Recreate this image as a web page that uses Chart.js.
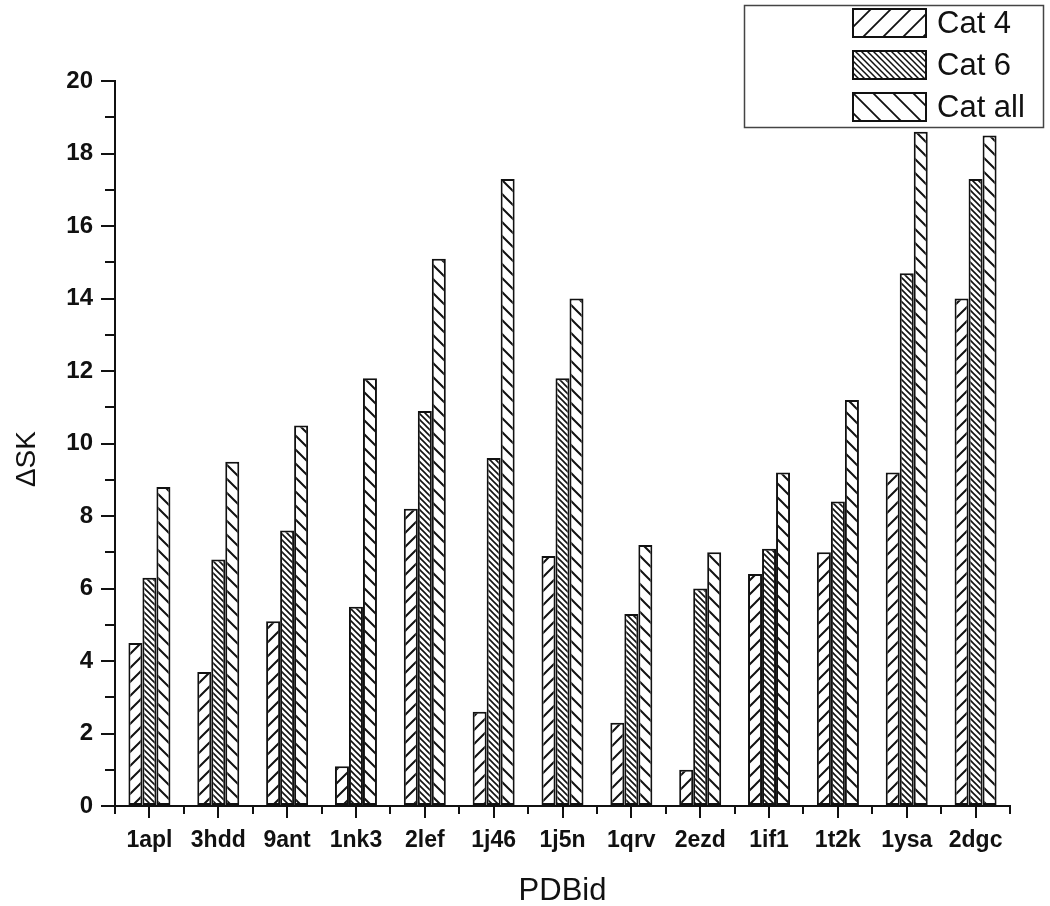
<!DOCTYPE html>
<html>
<head>
<meta charset="utf-8">
<script src="https://cdn.jsdelivr.net/npm/chart.js@4/dist/chart.umd.min.js"></script>
<style>
  html, body { margin: 0; padding: 0; background: #fff; }
  #wrap { width: 1050px; height: 906px; }
</style>
</head>
<body>
<div id="wrap"><canvas id="c" width="1050" height="906"></canvas></div>
<script>
const categories = ['1apl','3hdd','9ant','1nk3','2lef','1j46','1j5n','1qrv','2ezd','1if1','1t2k','1ysa','2dgc'];
const seriesNames = ['Cat 4','Cat 6','Cat all'];
const cat4 =   [4.5, 3.7, 5.1, 1.1, 8.2, 2.6, 6.9, 2.3, 1.0, 6.4, 7.0, 9.2, 14.0];
const cat6 =   [6.3, 6.8, 7.6, 5.5, 10.9, 9.6, 11.8, 5.3, 6.0, 7.1, 8.4, 14.7, 17.3];
const catAll = [8.8, 9.5, 10.5, 11.8, 15.1, 17.3, 14.0, 7.2, 7.0, 9.2, 11.2, 18.6, 18.5];
const yTickValues = [0, 2, 4, 6, 8, 10, 12, 14, 16, 18, 20];
const yTitle = 'ΔSK';
const xTitle = 'PDBid';

const INK = '#111';
const FONT = "'Liberation Sans', Arial, sans-serif";

function makeHatch(dir, pitch, lw) {
  const c = document.createElement('canvas');
  c.width = pitch; c.height = pitch;
  const g = c.getContext('2d');
  g.fillStyle = '#fff';
  g.fillRect(0, 0, pitch, pitch);
  g.strokeStyle = INK;
  g.lineWidth = lw;
  g.lineCap = 'square';
  g.beginPath();
  if (dir === '/') {
    g.moveTo(-1, pitch + 1); g.lineTo(pitch + 1, -1);
    g.moveTo(-1, 1); g.lineTo(1, -1);
    g.moveTo(pitch - 1, pitch + 1); g.lineTo(pitch + 1, pitch - 1);
  } else {
    g.moveTo(-1, -1); g.lineTo(pitch + 1, pitch + 1);
    g.moveTo(pitch - 1, -1); g.lineTo(pitch + 1, 1);
    g.moveTo(-1, pitch - 1); g.lineTo(1, pitch + 1);
  }
  g.stroke();
  return g.createPattern(c, 'repeat');
}

const barPatterns = [makeHatch('/', 14, 2), makeHatch('\\', 6, 1.6), makeHatch('\\', 14, 2)];
const legendPatterns = [makeHatch('/', 20, 1.8), makeHatch('\\', 6, 1.5), makeHatch('\\', 20, 1.8)];

const minorTicks = {
  id: 'minorTicks',
  afterDraw(chart) {
    const ctx = chart.ctx;
    const ys = chart.scales.y, xs = chart.scales.x;
    const left = chart.chartArea.left, bottom = chart.chartArea.bottom;
    ctx.save();
    ctx.strokeStyle = INK;
    ctx.lineWidth = 2;
    ctx.beginPath();
    for (let i = 0; i < yTickValues.length - 1; i++) {
      const v = (yTickValues[i] + yTickValues[i + 1]) / 2;
      const p = Math.round(ys.getPixelForValue(v));
      ctx.moveTo(left - 10, p); ctx.lineTo(left, p);
    }
    for (let i = 0; i <= categories.length; i++) {
      const p = Math.round(xs.getPixelForValue(i - 0.5));
      ctx.moveTo(p, bottom); ctx.lineTo(p, bottom + 8);
    }
    ctx.stroke();
    ctx.restore();
  }
};

const boxLegend = {
  id: 'boxLegend',
  afterDraw(chart) {
    const ctx = chart.ctx;
    const right = chart.width - 7;
    const boxW = 299, boxH = 122, top = 5;
    const left = right - boxW;
    ctx.save();
    ctx.fillStyle = '#fff';
    ctx.fillRect(left, top, boxW, boxH);
    ctx.strokeStyle = '#444';
    ctx.lineWidth = 1.5;
    ctx.strokeRect(left + 0.5, top + 0.5, boxW, boxH);
    chart.data.datasets.forEach((ds, i) => {
      const sx = left + 109, sy = top + 4 + i * 42, sw = 73, sh = 28;
      ctx.fillStyle = legendPatterns[i];
      ctx.fillRect(sx, sy, sw, sh);
      ctx.strokeStyle = INK;
      ctx.lineWidth = 2;
      ctx.strokeRect(sx, sy, sw, sh);
      ctx.fillStyle = INK;
      ctx.font = '31px ' + FONT;
      ctx.textBaseline = 'middle';
      ctx.textAlign = 'left';
      ctx.fillText(ds.label, sx + sw + 11, sy + sh / 2 + 1);
    });
    ctx.restore();
  }
};

const seriesValues = [cat4, cat6, catAll];
new Chart(document.getElementById('c'), {
  type: 'bar',
  data: {
    labels: categories,
    datasets: seriesValues.map((vals, i) => ({
      label: seriesNames[i],
      data: vals,
      backgroundColor: barPatterns[i],
      borderColor: INK,
      borderWidth: 2,
      borderSkipped: false,
      categoryPercentage: 0.61,
      barPercentage: 1.0
    }))
  },
  options: {
    responsive: false,
    devicePixelRatio: 1,
    animation: false,
    layout: { padding: { top: 81, right: 40, bottom: 0, left: 0 } },
    plugins: { legend: { display: false }, tooltip: { enabled: false } },
    scales: {
      x: {
        offset: true,
        grid: { offset: false, drawOnChartArea: false, drawTicks: true, tickLength: 12, color: INK, lineWidth: 2 },
        border: { display: true, color: INK, width: 2 },
        ticks: { color: INK, font: { family: FONT, size: 23, weight: 'bold' }, padding: 9, maxRotation: 0, autoSkip: false },
        title: { display: true, text: xTitle, color: INK, font: { family: FONT, size: 31 }, padding: { top: 0, bottom: -4 } },
        afterFit(scale) { scale.height = 100; }
      },
      y: {
        min: 0, max: 20,
        afterBuildTicks(scale) { scale.ticks = yTickValues.map(v => ({ value: v })); },
        grid: { drawOnChartArea: false, drawTicks: true, tickLength: 14, color: INK, lineWidth: 2 },
        border: { display: true, color: INK, width: 2 },
        ticks: { color: INK, font: { family: FONT, size: 24, weight: 'bold' }, padding: 8 },
        title: { display: true, text: yTitle + '    ', color: INK, font: { family: FONT, size: 28 }, padding: { top: 10, bottom: 0 } },
        afterFit(scale) { scale.width = 115; }
      }
    }
  },
  plugins: [minorTicks, boxLegend]
});
</script>
</body>
</html>
